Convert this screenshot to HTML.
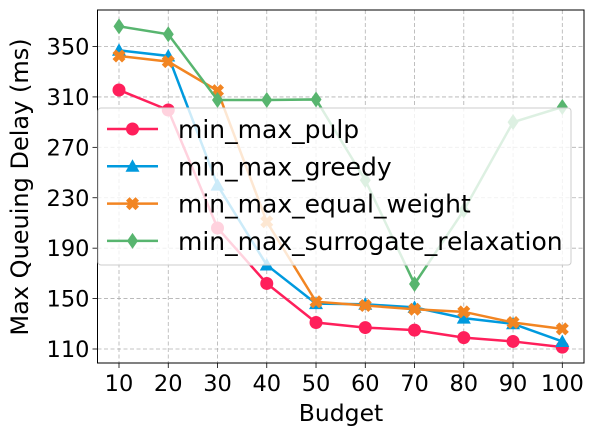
<!DOCTYPE html>
<html><head><meta charset="utf-8"><style>
body{margin:0;background:#fff;width:595px;height:436px;overflow:hidden}
text{font-family:"DejaVu Sans","Liberation Sans",sans-serif}
</style></head><body>
<svg id="chart" width="595" height="436" xmlns="http://www.w3.org/2000/svg"></svg>
<script>
const categories=[10,20,30,40,50,60,70,80,90,100];
const yTicks=[110,150,190,230,270,310,350];
const pulp=[315.5,299.6,206,162,131,127,125,119,116,111.5];
const greedy=[347,342.5,240,176.6,146,145.5,143,134.5,130,116];
const equalWeight=[342.5,338,315,211,147.5,144.5,141.5,139.5,131,126];
const surrogate=[366,359.7,307.6,307.6,308,244,161.6,220,290,302];
const seriesNames=["min_max_pulp","min_max_greedy","min_max_equal_weight","min_max_surrogate_relaxation"];
const NS="http://www.w3.org/2000/svg";
const svg=document.getElementById('chart');
const L=97.5,R=584,T=10,B=363;
const x=v=>119+(v-10)*(562.3-119)/90;
const y=v=>349-(v-110)*1.2604;
function mk(tag,attrs,parent){const e=document.createElementNS(NS,tag);for(const k in attrs)e.setAttribute(k,attrs[k]);(parent||svg).appendChild(e);return e;}
categories.forEach(c=>{const g=mk('line',{x1:x(c),x2:x(c),y1:T,y2:B,stroke:'#b0b0b0','stroke-dasharray':'4,2.5','stroke-width':0.8});


const t=mk('line',{x1:x(c),x2:x(c),y1:B,y2:B+5,stroke:'#000','stroke-width':0.8});


const l=mk('text',{x:x(c),y:391,'text-anchor':'middle','font-size':22.5});l.textContent=c;

});
yTicks.forEach(v=>{const g=mk('line',{x1:L,x2:R,y1:y(v),y2:y(v),stroke:'#b0b0b0','stroke-dasharray':'4,2.5','stroke-width':0.8});


const t=mk('line',{x1:L-5,x2:L,y1:y(v),y2:y(v),stroke:'#000','stroke-width':0.8});


const l=mk('text',{x:L-8,y:y(v)+8,'text-anchor':'end','font-size':22.5});l.textContent=v;

});
const colors=['#ff1f5b','#009ade','#f28522','#58b56f'];
const data=[pulp,greedy,equalWeight,surrogate];
function marker(k,cx,cy,parent){
 if(k===0)return mk('circle',{cx,cy,r:6.5,fill:colors[0]},parent);
 if(k===1)return mk('path',{d:`M${cx},${cy-7}L${cx+7},${cy+5.5}L${cx-7},${cy+5.5}Z`,fill:colors[1]},parent);
 if(k===2){const s=3.5,w=6.5;return mk('path',{d:`M${cx-w},${cy-w+s}L${cx-w+s},${cy-w}L${cx},${cy-s}L${cx+w-s},${cy-w}L${cx+w},${cy-w+s}L${cx+s},${cy}L${cx+w},${cy+w-s}L${cx+w-s},${cy+w}L${cx},${cy+s}L${cx-w+s},${cy+w}L${cx-w},${cy+w-s}L${cx-s},${cy}Z`,fill:colors[2]},parent);}
 return mk('path',{d:`M${cx},${cy-8}L${cx+5.5},${cy}L${cx},${cy+8}L${cx-5.5},${cy}Z`,fill:colors[3]},parent);
}
data.forEach((s,k)=>{const g=mk('g',{});


mk('polyline',{points:s.map((v,i)=>x(categories[i])+','+y(v)).join(' '),fill:'none',stroke:colors[k],'stroke-width':2.5},g);
s.forEach((v,i)=>{const m=marker(k,x(categories[i]),y(v),g);

});});
const fr=mk('rect',{x:L,y:T,width:R-L,height:B-T,fill:'none',stroke:'#000','stroke-width':1});


const lg=mk('g',{});


mk('rect',{x:98,y:108,width:473,height:157,rx:3,fill:'#fff','fill-opacity':0.8,stroke:'#ccc','stroke-width':1},lg);
seriesNames.forEach((n,k)=>{const cy=129+k*37.3;
const e=mk('g',{},lg);


mk('line',{x1:107,x2:158,y1:cy,y2:cy,stroke:colors[k],'stroke-width':2.5},e);
marker(k,132.5,cy,e);
const t=mk('text',{x:178,y:cy+9,'font-size':25},e);t.textContent=n;});
const xt=mk('text',{x:341,y:421,'text-anchor':'middle','font-size':23.5});xt.textContent='Budget';


const yt=mk('text',{x:0,y:0,'text-anchor':'middle','font-size':24,transform:'translate(28,187) rotate(-90)'});yt.textContent='Max Queuing Delay (ms)';


</script>
</body></html>
